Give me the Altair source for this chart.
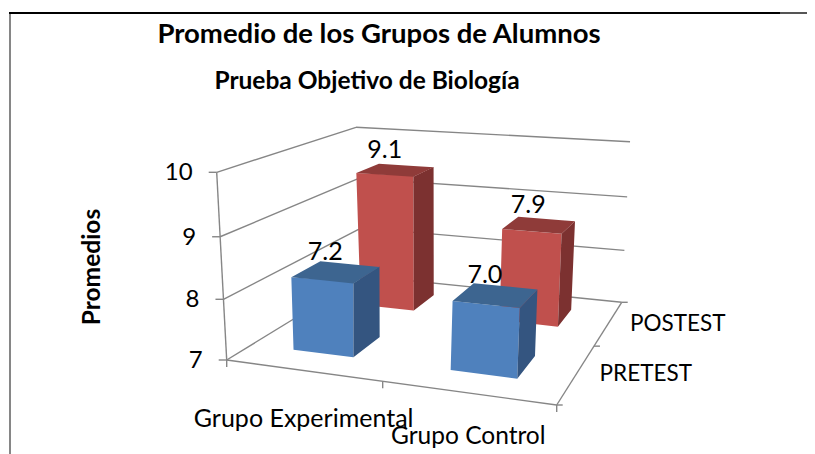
import numpy as np
import pandas as pd
import altair as alt

# ---- values ----
groups = ["Grupo Experimental", "Grupo Control"]
series = ["PRETEST", "POSTEST"]
label_pre = ["7.2", "7.0"]      # printed data labels
label_post = ["9.1", "7.9"]
height_pre = [8.22, 8.10]       # bar heights read against the value axis
height_post = [9.46, 8.65]
y_ticks = [7, 8, 9, 10]
title_main = "Promedio de los Grupos de Alumnos"
title_sub = "Prueba Objetivo de Biología"
y_title = "Promedios"

# ---- oblique view of the chart box ----
FLOOR = [(226.7, 360), (556.7, 405), (621.7, 302.3), (364, 276)]
TOP = [(216.7, 172.3), (564, 193), (630, 141.7), (356, 127.3)]
BEND = -0.044
FONT = "Lato"
GREY = "#868686"
CENTER_U = [0.242, 0.75]
CENTER_V = [0.25, 0.75]


def square_to_quad(q):
    (x0, y0), (x1, y1), (x2, y2), (x3, y3) = q
    dx1, dx2, sx = x1 - x2, x3 - x2, x0 - x1 + x2 - x3
    dy1, dy2, sy = y1 - y2, y3 - y2, y0 - y1 + y2 - y3
    det = dx1 * dy2 - dx2 * dy1
    g = (sx * dy2 - dx2 * sy) / det
    h = (dx1 * sy - sx * dy1) / det
    return np.array([[x1 - x0 + g * x1, x3 - x0 + h * x3, x0],
                     [y1 - y0 + g * y1, y3 - y0 + h * y3, y0],
                     [g, h, 1.0]])


HF, HT = square_to_quad(FLOOR), square_to_quad(TOP)


def proj(u, v, val):
    z = (val - 7) / 3
    t = z * (1 + BEND) / (1 + BEND * z)
    a = HF @ [u, v, 1]
    b = HT @ [u, v, 1]
    return (a[:2] / a[2]) * (1 - t) + (b[:2] / b[2]) * t


def chains(poly):
    """Upper and lower outline of a convex face, for an area mark."""
    xs = sorted({round(float(p[0]), 2) for p in poly})
    out = []
    n = len(poly)
    for x in xs:
        ys = []
        for i in range(n):
            a, b = poly[i], poly[(i + 1) % n]
            lo, hi = min(a[0], b[0]), max(a[0], b[0])
            if lo - 0.01 <= x <= hi + 0.01:
                if abs(b[0] - a[0]) < 1e-6:
                    ys += [a[1], b[1]]
                else:
                    ys.append(a[1] + (b[1] - a[1]) * (x - a[0]) / (b[0] - a[0]))
        out.append((x, min(ys), max(ys)))
    return out


HALF_W = 0.10
HALF_D = 0.10
COLORS = {
    "PRETEST": ("#4F81BD", "#3D6590", "#345580"),
    "POSTEST": ("#C0504D", "#8F3B39", "#7C3130"),
}

faces, labels = [], []
for sj, heights, texts_ in ((1, height_post, label_post), (0, height_pre, label_pre)):
    for gi, val in enumerate(heights):
        u0, u1 = CENTER_U[gi] - HALF_W, CENTER_U[gi] + HALF_W
        v0, v1 = CENTER_V[sj] - HALF_D, CENTER_V[sj] + HALF_D
        front_c, top_c, side_c = COLORS[series[sj]]
        quads = [
            ("front", front_c, [(u0, v0, 7), (u1, v0, 7), (u1, v0, val), (u0, v0, val)]),
            ("side", side_c, [(u1, v0, 7), (u1, v1, 7), (u1, v1, val), (u1, v0, val)]),
            ("top", top_c, [(u0, v0, val), (u1, v0, val), (u1, v1, val), (u0, v1, val)]),
        ]
        for name, col, pts in quads:
            poly = [proj(*p) for p in pts]
            for x, y, y2 in chains(poly):
                faces.append(dict(face=f"{sj}-{gi}-{name}", x=x, y=y, y2=y2, fill=col))
        c = proj((u0 + u1) / 2, (v0 + v1) / 2, val)
        labels.append(dict(text=texts_[gi], x=c[0] - 11, y=c[1] - 20))

lines = []


def seg(a, b):
    p, q = proj(*a), proj(*b)
    lines.append(dict(x=p[0], y=p[1], x2=q[0], y2=q[1]))


def tick(a, dx, dy):
    p = proj(*a)
    lines.append(dict(x=p[0], y=p[1], x2=p[0] + dx, y2=p[1] + dy))


for t in y_ticks:
    seg((0, 0, t), (0, 1, t))
    seg((0, 1, t), (1, 1, t))
    tick((0, 0, t), -8, 0)
seg((0, 0, 7), (0, 0, 10))
seg((0, 0, 7), (1, 0, 7))
seg((1, 0, 7), (1, 1, 7))
for u in (0, .5, 1):
    tick((u, 0, 7), 0, 7)
for v in (0, .5, 1):
    tick((1, v, 7), 6, 0)

tick_rows = []
for t in y_ticks:
    p = proj(0, 0, t)
    tick_rows.append(dict(text=str(t), x=p[0] - 24, y=p[1] + 1))

cat_rows = []
for i, (g, dy) in enumerate(zip(groups, (49, 44))):
    p = proj((i + .5) / 2, 0, 7)
    cat_rows.append(dict(text=g, x=p[0] + 1, y=p[1] + dy))
ser_rows = []
for j, s in enumerate(series):
    p = proj(1, (j + .5) / 2, 7)
    ser_rows.append(dict(text=s, x=p[0] + 69, y=p[1] + 1))

X = alt.X("x:Q", axis=None, scale=alt.Scale(domain=[8, 807], nice=False, zero=False))
Y = alt.Y("y:Q", axis=None, stack=None, scale=alt.Scale(domain=[454, 8], nice=False, zero=False))


def rules(df, color, width):
    return alt.Chart(pd.DataFrame(df)).mark_rule(color=color, strokeWidth=width).encode(
        x=X, y=Y, x2="x2:Q", y2="y2:Q")


def texts(df, size, align="center", bold=False, angle=0):
    return alt.Chart(pd.DataFrame(df)).mark_text(
        font=FONT, fontSize=size, align=align, baseline="middle", color="#000000",
        fontWeight="bold" if bold else "normal", angle=angle
    ).encode(x=X, y=Y, text="text:N")


frame = rules([dict(x=10, y=12, x2=10, y2=454)], GREY, 2)
frame_top = rules([dict(x=9, y=13, x2=780, y2=13)], "#000000", 2)
frame_top2 = rules([dict(x=780, y=13, x2=807, y2=13)], "#555555", 2)

bars = alt.Chart(pd.DataFrame(faces)).mark_area(orient="vertical", interpolate="linear", opacity=1).encode(
    x=X, y=Y, y2="y2:Q",
    detail="face:N",
    fill=alt.Fill("fill:N", scale=None, legend=None),
)

chart = alt.layer(
    frame, frame_top, frame_top2,
    rules(lines, GREY, 1.4),
    bars,
    texts(labels, 25),
    texts(tick_rows, 24, align="right"),
    texts(cat_rows[:1], 25),
    texts(cat_rows[1:], 24.5),
    texts(ser_rows, 22.5),
    texts([dict(text=title_main, x=379, y=35)], 27.5, bold=True),
    texts([dict(text=title_sub, x=367, y=82)], 24.5, bold=True),
    texts([dict(text=y_title, x=93, y=267)], 24.5, bold=True, angle=270),
).properties(
    width=799, height=446, padding=0,
    autosize=alt.AutoSizeParams(type="none"),
).configure_view(stroke=None)

chart.save("out.html", embed_options={"renderer": "svg", "actions": False})
